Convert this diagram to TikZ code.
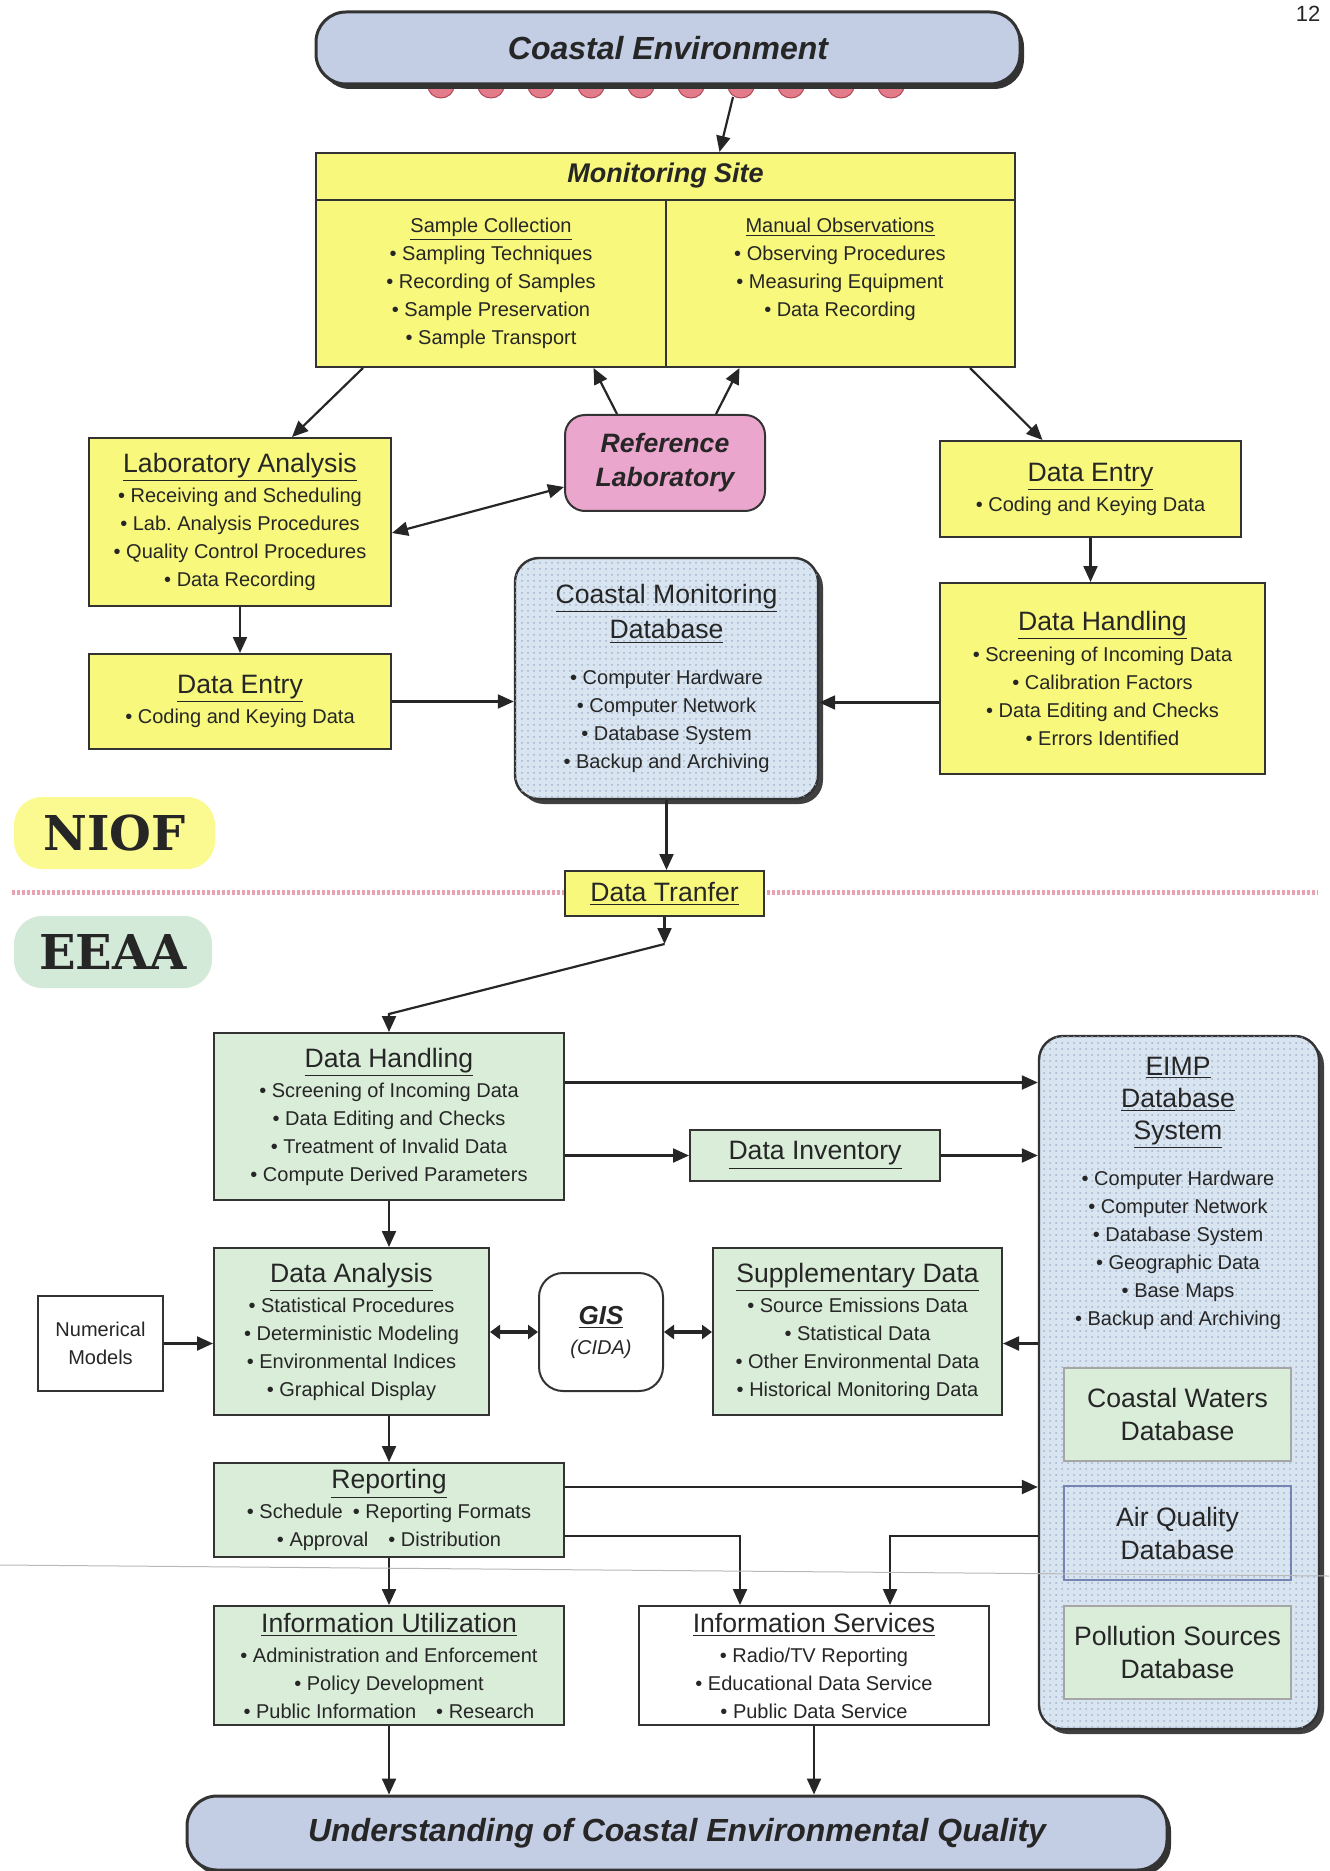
\documentclass[tikz,border=0pt]{standalone}
\usepackage{fontspec}
\setmainfont{Liberation Sans}
\newfontfamily\slabfont{DejaVu Serif}
\usepackage{xcolor}
\usepackage{tikz}
\usetikzlibrary{arrows.meta, shadows, patterns}

\definecolor{ylw}{HTML}{F8F87C}
\definecolor{ylwsoft}{HTML}{FAFA90}
\definecolor{grn}{HTML}{D9EDD9}
\definecolor{grnsoft}{HTML}{D3EAD9}
\definecolor{bnr}{HTML}{C3CDE4}
\definecolor{dbb}{HTML}{D8E4F0}
\definecolor{dotc}{HTML}{A3B4CC}
\definecolor{pnk}{HTML}{EBA6CD}
\definecolor{bead}{HTML}{E27C8A}
\definecolor{beadd}{HTML}{B04858}
\definecolor{divc}{HTML}{E8A3B3}
\definecolor{airc}{HTML}{7684B4}

\newcommand{\hd}[1]{{\fontsize{13.3}{16}\selectfont\underline{#1}}}

\begin{document}
\begin{tikzpicture}[x=0.5pt, y=-0.5pt,
	txt/.style={inner sep=0pt, align=center, text=black!85, font=\fontsize{10}{14}\selectfont},
	box/.style={txt, draw=black!80, line width=1pt},
	sz/.style 2 args={minimum width=#1*0.5pt, minimum height=#2*0.5pt},
	yel/.style={box, fill=ylw},
	grnbox/.style={box, fill=grn},
	wht/.style={box, fill=white},
	dbase/.style={box, rounded corners=12pt, line width=1.2pt, fill=dbb,
		drop shadow={shadow xshift=2.5pt, shadow yshift=-2.5pt, fill=black!75, opacity=1},
		postaction={pattern=dots, pattern color=dotc}},
	banner/.style={box, rounded corners=15pt, line width=1.5pt, fill=bnr,
		drop shadow={shadow xshift=2pt, shadow yshift=-2.5pt, fill=black!80, opacity=1},
		font=\fontsize{16}{19}\selectfont\bfseries\itshape},
	inner/.style={txt, draw=gray!70, line width=0.6pt, font=\fontsize{13.3}{16.5}\selectfont},
	agency/.style={txt, rounded corners=14pt, font=\slabfont\bfseries\fontsize{24}{28}\selectfont},
	arr/.style={-{Triangle[length=8pt,width=7pt]}, line width=1.1pt, draw=black!85},
	dbl/.style={{Triangle[length=8pt,width=7pt]}-{Triangle[length=8pt,width=7pt]}, line width=1.1pt, draw=black!85},
	thick dbl/.style={{Triangle[length=5pt,width=7pt]}-{Triangle[length=5pt,width=7pt]}, line width=2pt, draw=black!85}
]

\useasboundingbox (0,0) rectangle (1329,1871);

\node[txt, font=\fontsize{11}{13}\selectfont] (pagenum) at (1308,14) {12};

\foreach \i in {0,...,9}{
	\fill[bead, draw=beadd, line width=0.5pt] (441+50*\i, 86) ellipse [x radius=13, y radius=12];
}
\node[banner, sz={704}{72}] (coast) at (668,48) {Coastal Environment};
\coordinate (bead) at (733,97);

\node[yel, sz={699}{214}] (site) at (665.5,260) {};
\coordinate (hdr) at (0,200);
\draw[line width=1pt, black!80] (site.west |- hdr) -- (site.east |- hdr);
\draw[line width=1pt, black!80] (site.south) -- (site.south |- hdr);
\node[txt, font=\fontsize{13.5}{16}\selectfont\bfseries\itshape] (sitetitle) at (665.5,176) {Monitoring Site};
\node[txt] (collect) at (491,283.5) {\underline{Sample Collection}\\ • Sampling Techniques\\ • Recording of Samples\\ • Sample Preservation\\ • Sample Transport};
\node[txt] (observe) at (840,269) {\underline{Manual Observations}\\ • Observing Procedures\\ • Measuring Equipment\\ • Data Recording};

\node[yel, sz={302}{168}] (lab) at (240,522) {\hd{Laboratory Analysis}\\[1pt] • Receiving and Scheduling\\ • Lab.\ Analysis Procedures\\ • Quality Control Procedures\\ • Data Recording};
\node[box, fill=pnk, rounded corners=10pt, sz={200}{96}, font=\fontsize{13.3}{17}\selectfont\bfseries\itshape] (reflab) at (665,463) {Reference\\Laboratory};
\node[yel, sz={301}{96}] (entryR) at (1090.5,489) {\hd{Data Entry}\\[1pt] • Coding and Keying Data};
\node[yel, sz={325}{191}] (handR) at (1102.5,678.5) {\hd{Data Handling}\\[1.5pt] • Screening of Incoming Data\\ • Calibration Factors\\ • Data Editing and Checks\\ • Errors Identified};
\node[dbase, sz={303}{241}] (cmdb) at (666.5,678.5) {\hd{Coastal Monitoring}\\[2.5pt] \hd{Database}\\[9pt] • Computer Hardware\\ • Computer Network\\ • Database System\\ • Backup and Archiving};
\node[yel, sz={302}{95}] (entryL) at (240,701.5) {\hd{Data Entry}\\[1pt] • Coding and Keying Data};

\node[agency, fill=ylwsoft, sz={201}{72}] (niof) at (114.5,833) {NIOF};
\node[agency, fill=grnsoft, sz={198}{72}] (eeaa) at (113,952) {EEAA};

\draw[divc, line width=2.5pt, dash pattern=on 1.5pt off 1pt] (12,892) -- (1318,892);
\node[yel, sz={199}{45}] (transfer) at (664.5,893.5) {\hd{Data Tranfer}};
\coordinate (tk1) at (664.5,944);
\coordinate (tk2) at (389,1014);

\node[grnbox, sz={350}{167}] (handE) at (389,1116.5) {\hd{Data Handling}\\[1pt] • Screening of Incoming Data\\ • Data Editing and Checks\\ • Treatment of Invalid Data\\ • Compute Derived Parameters};
\node[grnbox, sz={250}{51}] (inventory) at (815,1155.5) {\hd{Data Inventory}};

\node[dbase, sz={280}{693}] (eimp) at (1179,1382.5) {};
\node[txt] (eimptext) at (1178,1193) {\hd{EIMP}\\[2pt] \hd{Database}\\[2pt] \hd{System}\\[9pt] • Computer Hardware\\ • Computer Network\\ • Database System\\ • Geographic Data\\ • Base Maps\\ • Backup and Archiving};
\node[inner, fill=grn, sz={227}{93}] (waters) at (1177.5,1414.5) {Coastal Waters\\Database};
\node[inner, draw=airc, sz={227}{94}] (air) at (1177.5,1533) {Air Quality\\Database};
\node[inner, fill=grn, sz={227}{93}] (pollution) at (1177.5,1652.5) {Pollution Sources\\Database};

\node[wht, sz={125}{95}] (numerical) at (100.5,1343.5) {Numerical\\Models};
\node[grnbox, sz={275}{167}] (analysis) at (351.5,1331.5) {\hd{Data Analysis}\\[1pt] • Statistical Procedures\\ • Deterministic Modeling\\ • Environmental Indices\\ • Graphical Display};
\node[wht, rounded corners=12pt, sz={124}{118}] (gis) at (601,1332) {{\fontsize{13}{15}\selectfont\bfseries\itshape\underline{GIS}}\\[1pt] \textit{(CIDA)}};
\node[grnbox, sz={289}{167}] (supp) at (857.5,1331.5) {\hd{Supplementary Data}\\[1pt] • Source Emissions Data\\ • Statistical Data\\ • Other Environmental Data\\ • Historical Monitoring Data};

\node[grnbox, sz={350}{94}] (reporting) at (389,1510) {\hd{Reporting}\\[1pt] • Schedule\enspace • Reporting Formats\\ • Approval\enspace\enspace • Distribution};
\node[grnbox, sz={350}{119}] (utilization) at (389,1665.5) {\hd{Information Utilization}\\[1pt] • Administration and Enforcement\\ • Policy Development\\ • Public Information\enspace\enspace • Research};
\node[wht, sz={350}{119}] (services) at (814,1665.5) {\hd{Information Services}\\[1pt] • Radio/TV Reporting\\ • Educational Data Service\\ • Public Data Service};

\node[banner, sz={980}{74}] (understand) at (677,1833) {Understanding of Coastal Environmental Quality};

\draw[arr] (bead) -- ([xshift=27pt]site.north);
\draw[arr] ([xshift=24pt]site.south west) -- ([xshift=26pt]lab.north);
\draw[arr] ([xshift=-24pt]reflab.north) -- ([xshift=-36pt]site.south);
\draw[arr] ([xshift=25.5pt]reflab.north) -- ([xshift=37pt]site.south);
\draw[arr] ([xshift=-23pt]site.south east) -- ([xshift=-24pt]entryR.north);
\draw[dbl] ([yshift=-5.5pt]lab.east) -- ([yshift=-12pt]reflab.west);
\draw[arr] (lab.south) -- (entryL.north);
\draw[arr] (entryL.east) -- (cmdb.west |- entryL.east);
\draw[arr] (entryR.south) -- (entryR.south |- handR.north);
\draw[arr] ([yshift=-12pt]handR.west) -- ([yshift=-12pt]handR.west -| cmdb.east);
\draw[arr] (cmdb.south) -- (cmdb.south |- transfer.north);

\draw[arr] (transfer.south) -- (tk1);
\draw[arr] (tk1) -- (tk2) -- (handE.north);

\draw[arr] ([yshift=17pt]handE.east) -- ([yshift=17pt]handE.east -| eimp.west);
\draw[arr] (handE.east |- inventory.west) -- (inventory.west);
\draw[arr] (inventory.east) -- (inventory.east -| eimp.west);
\draw[arr] (handE.south) -- (handE.south |- analysis.north);
\draw[arr] (numerical.east) -- (analysis.west |- numerical.east);
\draw[thick dbl] (analysis.east |- gis.west) -- (gis.west);
\draw[thick dbl] (gis.east) -- (supp.west |- gis.east);
\draw[arr] ([yshift=-6pt]supp.east -| eimp.west) -- ([yshift=-6pt]supp.east);
\draw[arr] (reporting.north |- analysis.south) -- (reporting.north);
\draw[arr] ([yshift=11.5pt]reporting.east) -- ([yshift=11.5pt]reporting.east -| eimp.west);
\draw[arr] ([yshift=-13pt]reporting.east) -| ([xshift=-37pt]services.north);
\draw[arr] ([yshift=-13pt]reporting.east -| eimp.west) -| ([xshift=38pt]services.north);
\draw[arr] (reporting.south) -- (utilization.north);
\draw[arr] (utilization.south) -- (utilization.south |- understand.north);
\draw[arr] (services.south) -- (services.south |- understand.north);

\draw[gray!55, line width=0.5pt] (0,1565) -- (1329,1576);

\end{tikzpicture}
\end{document}
